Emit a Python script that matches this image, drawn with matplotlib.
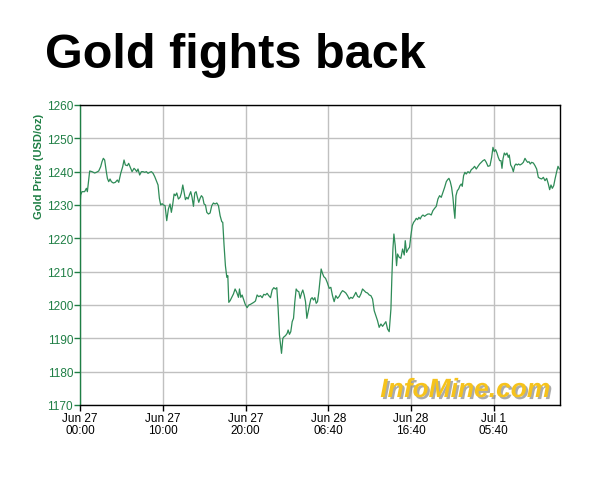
import matplotlib
matplotlib.use("Agg")
import matplotlib.pyplot as plt
import matplotlib.patheffects as pe

plt.rcParams['font.family'] = ['Liberation Sans', 'DejaVu Sans']

# trading hours since Jun 27 00:00 (weekend skipped) and gold price
hours = [0.0, 0.08, 0.24, 0.56, 0.77, 0.89, 1.17, 1.45, 1.77, 1.98, 2.26, 2.50, 2.66, 2.82, 2.98,
         3.18, 3.31, 3.47, 3.63, 3.79, 4.03, 4.27, 4.51, 4.68, 4.92, 5.16, 5.32, 5.48, 5.72, 5.88,
         6.13, 6.29, 6.53, 6.69, 6.85, 7.01, 7.21, 7.42, 7.62, 7.82, 8.02, 8.22, 8.42, 8.63, 8.83,
         9.03, 9.27, 9.43, 9.59, 9.75, 9.92, 10.08,
         10.28, 10.48, 10.68, 10.88, 11.04, 11.21, 11.37, 11.53, 11.69, 11.89, 12.09, 12.25, 12.42,
         12.58, 12.74, 12.90, 13.06, 13.22, 13.38, 13.54, 13.71, 13.87, 14.03, 14.19, 14.35, 14.51,
         14.67, 14.83, 14.99, 15.16, 15.32, 15.52, 15.72, 15.92, 16.12, 16.32, 16.53, 16.73, 16.93,
         17.13, 17.25, 17.41, 17.57, 17.74, 17.86, 17.98, 18.14, 18.34, 18.54, 18.74, 18.94, 19.15,
         19.27, 19.43, 19.59, 19.75, 19.95,
         20.19, 20.40, 20.60, 20.80, 21.00, 21.20, 21.40, 21.60, 21.81, 22.01, 22.21, 22.41, 22.61,
         22.81, 23.02, 23.22, 23.42, 23.62, 23.78, 23.94, 24.10, 24.26, 24.35, 24.51, 24.67, 24.83,
         25.03, 25.15, 25.31, 25.47, 25.64, 25.80, 25.96, 26.12, 26.28, 26.44, 26.60, 26.76, 26.92,
         27.09, 27.25, 27.41, 27.57, 27.73, 27.89, 28.05, 28.21, 28.38, 28.54, 28.70, 28.86, 29.02,
         29.14, 29.30, 29.46, 29.67, 29.87,
         30.11, 30.31, 30.51, 30.71, 30.91, 31.12, 31.32, 31.52, 31.72, 31.92, 32.12, 32.33, 32.53,
         32.73, 32.93, 33.13, 33.33, 33.54, 33.74, 33.94, 34.14, 34.34, 34.54, 34.74, 34.95, 35.15,
         35.35, 35.55, 35.75, 35.95, 36.15, 36.36, 36.56, 36.76, 36.96, 37.16, 37.36, 37.57, 37.69,
         37.81, 37.93, 38.09, 38.25, 38.37, 38.57, 38.77, 38.98, 39.18, 39.30, 39.46, 39.66, 39.82,
         39.98, 40.15, 40.31, 40.47, 40.63, 40.79, 40.95, 41.11, 41.27, 41.44, 41.64, 41.84, 42.04,
         42.24, 42.44, 42.64, 42.85, 43.05, 43.25, 43.45, 43.65, 43.85, 44.06, 44.26, 44.42, 44.58,
         44.74, 44.90, 45.06, 45.18, 45.30, 45.43, 45.59, 45.75, 45.91, 46.07, 46.19, 46.35, 46.51,
         46.67, 46.88, 47.08, 47.28, 47.48, 47.68, 47.88, 48.09, 48.29, 48.49, 48.69, 48.89, 49.09,
         49.30, 49.54, 49.74, 49.90, 50.06, 50.22, 50.38, 50.54, 50.71, 50.87, 50.99, 51.11, 51.27,
         51.43, 51.59, 51.75, 51.87, 52.04, 52.20, 52.36, 52.52, 52.68, 52.84, 53.00, 53.16, 53.37,
         53.57, 53.77, 53.93, 54.09, 54.25, 54.41, 54.57, 54.78, 54.98, 55.18, 55.38, 55.58, 55.78,
         55.99, 56.19, 56.39, 56.59, 56.75, 56.91, 57.07, 57.24, 57.40, 57.60, 57.76, 57.92]

price = [1229.5, 1233, 1234, 1234, 1235, 1234, 1240.2, 1240, 1239.6, 1239.8, 1240.2, 1241.5, 1243, 1244, 1243.5,
         1240, 1238, 1237, 1237.8, 1237, 1236.6, 1236.8, 1237.5, 1236.8, 1239.5, 1241.5, 1243.5, 1242, 1241.8, 1242.5,
         1241, 1240, 1241, 1240.6, 1240, 1240.8, 1239, 1240, 1240, 1239.8, 1240, 1239.5, 1239.8, 1240, 1239.5,
         1238.5, 1237, 1236, 1232, 1230, 1230.4, 1230,
         1229.8, 1225.3, 1228.8, 1230.3, 1227.8, 1230.3, 1233.3, 1232.8, 1233.6, 1231.8, 1232.3, 1233.6, 1236,
         1233.8, 1231.6, 1232.3, 1231.8, 1233, 1234, 1232.3, 1229.6, 1233.6, 1234, 1232.3, 1230.8, 1232,
         1232.8, 1232.3, 1230.3, 1230, 1227.8, 1227.3, 1227.6, 1229.8, 1230.6, 1230.3, 1230.6, 1229.8, 1226.8,
         1225, 1224.8, 1217.8, 1211.8, 1208.3, 1208.8, 1200.8, 1201.3, 1202.3, 1203.3, 1204.8, 1203.8, 1202.3,
         1204.8, 1202.3, 1203, 1201.8, 1200.3,
         1199.2, 1200, 1200.2, 1200.5, 1200.8, 1201.2, 1203, 1202.5, 1202.8, 1202.2, 1203.2, 1203, 1203.5,
         1202.8, 1202.2, 1204.5, 1205.2, 1204.8, 1205.2, 1199, 1191, 1187.5, 1185.5, 1190, 1190.5, 1190.8,
         1191.5, 1192.5, 1191.2, 1192, 1195, 1196, 1201, 1204.8, 1204.2, 1204, 1202, 1203.5, 1204.5,
         1203, 1201, 1196, 1198, 1200, 1201.8, 1202.2, 1201.5, 1202.2, 1200.5, 1201, 1204, 1208,
         1210.8, 1209.5, 1208.5, 1208, 1206.8,
         1205, 1205.3, 1202.8, 1201, 1202.8, 1202, 1202.6, 1203.6, 1204.3, 1204, 1203.6, 1202.8, 1201.8,
         1202.3, 1202, 1202.8, 1203.8, 1202.6, 1202.3, 1203.3, 1204.8, 1204.3, 1203.8, 1203.6, 1203, 1202.8,
         1201.8, 1198.3, 1196.8, 1195.3, 1193.3, 1194.3, 1193.6, 1194.3, 1195, 1192.8, 1192, 1198.8, 1208.8,
         1216.8, 1221.3, 1217.8, 1211.8, 1215.3, 1214.3, 1214, 1216.8, 1215, 1219.3, 1215.8, 1216.8, 1217.3,
         1220.8, 1223.8, 1224.8, 1225.3, 1226, 1225.6, 1226.3, 1225.8, 1226.6, 1227, 1226.6, 1227, 1227.3,
         1227.3, 1227, 1228.3, 1229, 1229.6, 1231.8, 1232.8, 1232.3, 1233.8, 1235.3, 1237, 1237.6, 1238,
         1237, 1235.3, 1232.3, 1228.8, 1226, 1232.8, 1234.3, 1234.8, 1235.8, 1236.3, 1235.6, 1238.8, 1239.8,
         1239.3, 1240, 1239.6, 1240.6, 1241, 1241.6, 1240.8, 1241.6, 1242.3, 1242.8, 1243.3, 1243.6, 1242.8,
         1241.6, 1241.8, 1244.3, 1247.3, 1246, 1246.6, 1245.6, 1244.3, 1243.3, 1243.3, 1241, 1243.8, 1245.6,
         1245, 1245.6, 1244.3, 1245, 1242, 1241.3, 1240, 1241.8, 1242.3, 1242, 1242.3, 1242, 1242.3,
         1242.8, 1244, 1243.3, 1242.8, 1243, 1242.3, 1242.8, 1242.6, 1241.8, 1240.8, 1238.3, 1238, 1237.8,
         1238.3, 1237.3, 1238, 1236.3, 1234.6, 1236, 1235, 1235.8, 1237.8, 1240, 1241.6, 1240.8]

tick_hours = [0, 10, 20, 30, 40, 50]
tick_labels = ['Jun 27\n00:00', 'Jun 27\n10:00', 'Jun 27\n20:00',
               'Jun 28\n06:40', 'Jun 28\n16:40', 'Jul 1\n05:40']
y_ticks = list(range(1170, 1261, 10))

green = '#1f7f45'

fig = plt.figure(figsize=(5.99, 4.81), dpi=100, facecolor='white')
ax = fig.add_axes([80/599, 1-406/481, 480/599, 300/481])

ax.plot(hours, price, color='#2e8b57', lw=0.9)

ax.set_xlim(0, 58)
ax.set_ylim(1170, 1260)
ax.set_xticks(tick_hours)
ax.set_xticklabels(tick_labels, fontsize=8.5, linespacing=1.05)
ax.set_yticks(y_ticks)
ax.tick_params(axis='y', colors=green, labelsize=8.5, length=4, width=1, pad=1)
ax.tick_params(axis='x', colors='black', labelsize=8.5, length=4, width=1, pad=1)
ax.grid(True, color='#c0c0c0', lw=1)
ax.set_axisbelow(True)

for s in ['top', 'right', 'bottom']:
    ax.spines[s].set_color('black')
    ax.spines[s].set_linewidth(1)
ax.spines['left'].set_color(green)
ax.spines['left'].set_linewidth(1)

ax.set_ylabel('Gold Price (USD/oz)', color=green, fontsize=8, fontweight='bold')
ax.yaxis.set_label_coords(-0.076, 0.80)

fig.text(45/599, 1-68/481, 'Gold fights back', fontsize=35, fontweight='bold',
         va='baseline', ha='left', color='black')

ax.text(0.98, 0.05, 'InfoMine.com', transform=ax.transAxes, ha='right', va='center',
        fontsize=19, fontweight='bold', fontstyle='italic', color='#f6c31c',
        path_effects=[pe.withSimplePatchShadow(offset=(1.5, -1.5), shadow_rgbFace='#888888', alpha=0.7)])

fig.savefig('out.png', dpi=100, facecolor='white')
